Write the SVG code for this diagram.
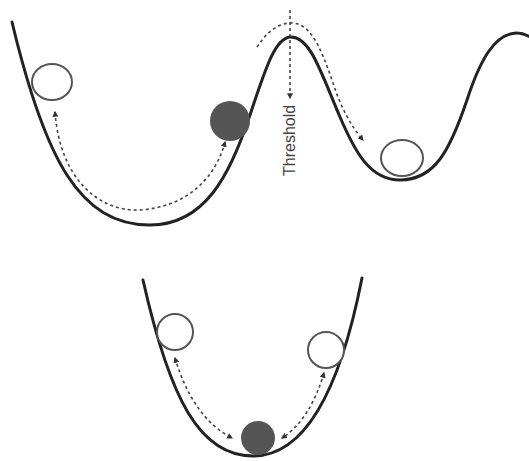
<svg xmlns="http://www.w3.org/2000/svg" width="529" height="461" viewBox="0 0 529 461">
<defs>
<style>
.curve{fill:none;stroke:#222;stroke-width:3;stroke-linecap:round}
.dash{fill:none;stroke:#444;stroke-width:1.6;stroke-dasharray:3 3}
.ball{fill:#fff;stroke:#555;stroke-width:2}
.fball{fill:#555;stroke:none}
.lbl{font-family:"Liberation Sans",Arial,sans-serif;font-size:16px;fill:#444}
</style>
<marker id="ah" viewBox="0 0 10 10" refX="8" refY="5" markerWidth="6" markerHeight="6" orient="auto-start-reverse" markerUnits="userSpaceOnUse">
<path d="M0,0 L10,5 L0,10 z" fill="#333"/>
</marker>
</defs>
<rect width="529" height="461" fill="#fff"/>
<g id="landscape">
<path class="curve" d="M12,22 C45,160 80,225 150,225 C205,225 230,175 250,115 C265,70 275,37 291,37 C310,37 320,70 340,117 C355,152 370,180 400,180 C435,180 450,150 467,100 C480,60 495,33 517,33 C522,33 527,35 532,38"/>
</g>
<g id="bowl">
<path class="curve" d="M143,280 C170,400 200,456 253,456 C305,456 340,390 362,278"/>
</g>
<g id="ball-top-left"><ellipse class="ball" cx="52" cy="82" rx="20" ry="18"/></g>
<g id="ball-top-filled"><circle class="fball" cx="230" cy="121" r="20"/></g>
<g id="ball-valley"><ellipse class="ball" cx="402" cy="158" rx="21" ry="18"/></g>
<g id="ball-bowl-left"><circle class="ball" cx="175" cy="332" r="18"/></g>
<g id="ball-bowl-right"><circle class="ball" cx="326" cy="350" r="18"/></g>
<g id="ball-bowl-filled"><circle class="fball" cx="258" cy="438" r="17"/></g>
<g id="threshold">
<text class="lbl" transform="translate(295,176) rotate(-90)">Threshold</text>
</g>
<g id="connectors">
<path class="dash" d="M55,112 C60,180 100,212 140,210 C185,207 215,180 225,142" marker-start="url(#ah)" marker-end="url(#ah)"/>
<path class="dash" d="M290,10 L290,98" marker-end="url(#ah)"/>
<path class="dash" d="M257,47 C268,30 280,23 291,23 C310,23 320,45 333,83 C340,105 350,125 363,140" marker-end="url(#ah)"/>
<path class="dash" d="M175,358 Q193,418 232,438" marker-start="url(#ah)" marker-end="url(#ah)"/>
<path class="dash" d="M324,373 Q310,420 282,438" marker-start="url(#ah)" marker-end="url(#ah)"/>
</g>
</svg>
